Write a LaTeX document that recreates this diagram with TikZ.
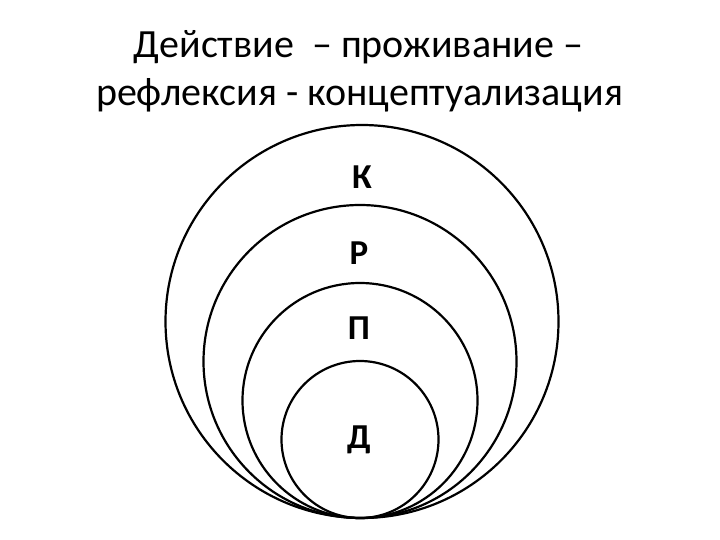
\documentclass[tikz,border=0pt]{standalone}
\usepackage{fontspec}
\setmainfont{Carlito}
\begin{document}
\begin{tikzpicture}[x=1pt,y=-1pt,
  ring/.style={draw=black,line width=2.2pt},
  letter/.style={font=\bfseries\fontsize{35}{38}\selectfont},
  title/.style={font=\fontsize{40}{48}\selectfont,anchor=base}]
\useasboundingbox (0,0) rectangle (720,540);
\node[title] (t1) at (358.5,58) {Действие\ \ – проживание –};
\node[title] (t2) at (359.5,106) {рефлексия - концептуализация};
\node[ring,circle,minimum size=393pt,inner sep=0pt] (c4) at (362,321.5) {};
\node[ring,circle,minimum size=313pt,inner sep=0pt] (c3) at (360,361.5) {};
\node[ring,circle,minimum size=235pt,inner sep=0pt] (c2) at (360,400.5) {};
\node[ring,circle,minimum size=157pt,inner sep=0pt] (c1) at (360,439.5) {};
\node[letter] (k) at (362,177) {К};
\node[letter] (r) at (359,253) {Р};
\node[letter] (p) at (359,328) {П};
\node[letter] (d) at (359,440) {Д};
\end{tikzpicture}
\end{document}
